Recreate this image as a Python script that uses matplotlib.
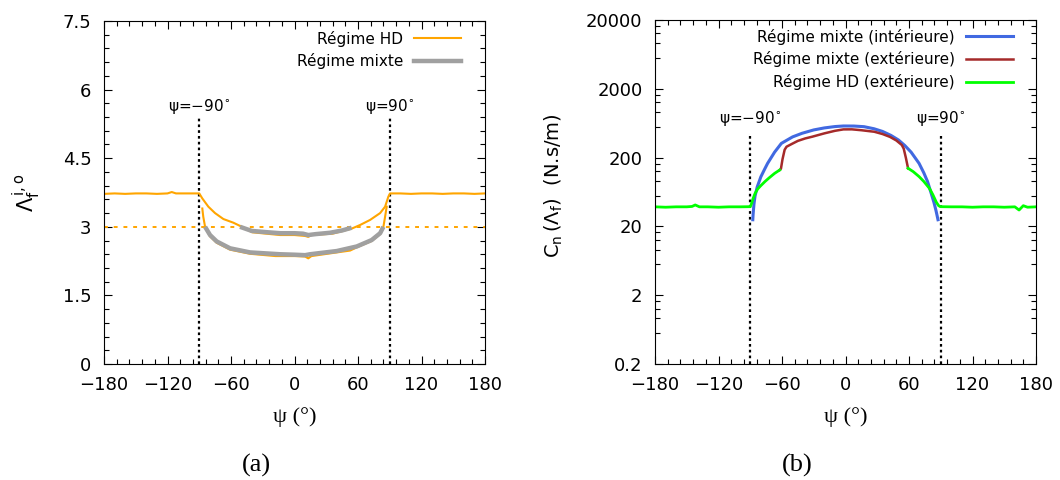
import matplotlib
matplotlib.use("Agg")
import matplotlib.pyplot as plt
import numpy as np
from matplotlib.ticker import FixedLocator, MultipleLocator, NullFormatter
from matplotlib.lines import Line2D

plt.rcParams['font.family'] = ['DejaVu Sans']
plt.rcParams['mathtext.fontset'] = 'dejavusans'

# ---- panel (a): Lambda_f vs psi ----
psi_hd_out = [-180, -170, -160, -150, -140, -130, -120, -116, -112, -100, -90,
              -87.1, -81.4, -75.1, -67.2, -57.8, -51.5, -40, -13.6, 0, 10, 13, 16, 36, 54,
              62, 71.4, 80.9, 85.6, 88.7, 90.3, 100, 110, 120, 130, 140, 150, 160, 170, 180]
lam_hd_out = [3.72, 3.73, 3.72, 3.73, 3.73, 3.72, 3.73, 3.76, 3.73, 3.73, 3.73,
              3.62, 3.44, 3.30, 3.17, 3.09, 3.02, 2.88, 2.82, 2.82, 2.80, 2.78, 2.82, 2.85, 2.96,
              3.04, 3.15, 3.30, 3.44, 3.66, 3.73, 3.73, 3.72, 3.73, 3.73, 3.72, 3.73, 3.73, 3.72, 3.73]

psi_hd_in = [-87.1, -86.2, -84.5, -79.8, -73.5, -60.9, -42, -18, 0, 10, 13, 16,
             40, 52.5, 58.8, 72.9, 80.9, 84, 85.6, 87.1]
lam_hd_in = [3.40, 3.22, 3.00, 2.79, 2.65, 2.50, 2.41, 2.36, 2.36, 2.35, 2.31, 2.36,
             2.44, 2.48, 2.55, 2.69, 2.84, 3.00, 3.22, 3.44]

psi_mix_up = [-51.5, -40.4, -25, -13.6, 0, 8, 13.1, 20, 33.6, 45, 54]
lam_mix_up = [3.00, 2.91, 2.88, 2.86, 2.86, 2.85, 2.82, 2.84, 2.87, 2.92, 2.98]

psi_mix_low = [-84.5, -79.8, -73.5, -60.9, -42, -13.6, 0, 10, 14.7, 39.9, 58.8, 72.9, 80.9, 84]
lam_mix_low = [3.00, 2.82, 2.68, 2.53, 2.44, 2.40, 2.39, 2.38, 2.40, 2.47, 2.57, 2.71, 2.86, 3.00]

lam_ref = 3.0
psi_limits = [-90, 90]

# ---- panel (b): C_n vs psi ----
psi_blue = [-87.6, -87.3, -86.5, -85.5, -83.4, -80, -76.5, -73.6, -67, -60.6, -50, -41.1,
            -30, -20, -10, -2, 8, 17.5, 27, 35, 43, 50, 56, 62, 69.5, 74, 77.5, 80.9,
            83.5, 85.5, 86.7, 87.4]
cn_blue = [25, 30, 42, 55, 75, 105, 135, 165, 240, 322, 400, 451,
           505, 540, 565, 576, 575, 563, 525, 480, 420, 361, 300, 240, 165, 120, 90, 61,
           45, 34, 28, 25]

psi_red = [-62.2, -61, -59.5, -57.5, -55.7, -50, -45, -38, -31.3, -20, -10, -2, 6, 15,
           27.2, 35, 42, 48, 53.2, 55, 57, 59.1]
cn_red = [132, 138, 190, 260, 288, 320, 350, 380, 403, 450, 490, 514, 515, 500,
          475, 440, 400, 355, 305, 270, 200, 140]

psi_green_l = [-180, -170, -160, -150, -145, -142, -138, -130, -120, -110, -100, -90,
               -89, -87.5, -85.5, -83, -80.1, -76, -72, -67, -62.2]
cn_green_l = [38.5, 38, 38.5, 38.5, 39, 41, 38.5, 38.5, 38, 38.5, 38.5, 38.7,
              42, 50, 60, 70, 78, 90, 102, 118, 132]
psi_green_r = [59.1, 64, 69.5, 74, 79.3, 82.5, 85.8, 88, 89.7, 100, 110, 120, 130, 140,
               150, 160, 164, 168, 172, 180]
cn_green_r = [140, 125, 106, 90, 71.5, 58, 45, 40, 38.7, 38.5, 38.5, 38, 38.5, 38.5,
              38, 38.5, 34.6, 40, 38, 38.5]

x_ticks = [-180, -120, -60, 0, 60, 120, 180]
y_ticks_a = [0, 1.5, 3, 4.5, 6, 7.5]
y_labels_a = ['0', '1.5', '3', '4.5', '6', '7.5']
y_ticks_b = [0.2, 2, 20, 200, 2000, 20000]
y_labels_b = ['0.2', '2', '20', '200', '2000', '20000']

ORANGE = '#ffa500'
GRAY = '#a0a0a0'
BLUE = '#4169e1'
RED = '#a52a2a'
GREEN = '#00ff00'

fig = plt.figure(figsize=(10.6, 4.8), dpi=100)
ax1 = fig.add_axes([104 / 1060, 116 / 480, 381 / 1060, 343 / 480])
ax2 = fig.add_axes([655 / 1060, 116 / 480, 381 / 1060, 344 / 480])


def style_axes(ax):
    ax.tick_params(which='both', direction='in', top=True, right=True, width=0.8)
    ax.tick_params(which='major', length=6, labelsize=13, pad=9)
    ax.tick_params(which='minor', length=3.5)
    ax.set_xlim(-180, 180)
    ax.set_xticks(x_ticks)
    ax.xaxis.set_minor_locator(MultipleLocator(12))
    ax.set_xlabel('ψ (°)', family=['Liberation Serif', 'DejaVu Serif'], fontsize=16)
    ax.xaxis.set_label_coords(0.5, -0.125)


# panel (a)
style_axes(ax1)
ax1.set_ylim(0, 7.5)
ax1.set_yticks(y_ticks_a)
ax1.set_yticklabels(y_labels_a)
ax1.yaxis.set_minor_locator(MultipleLocator(0.3))

ax1.axhline(lam_ref, color=ORANGE, lw=1.4, dashes=(2, 3))
for p in psi_limits:
    ax1.axvline(p, ymax=0.72, color='black', lw=1.6, dashes=(1.2, 1.4))
ax1.plot(psi_hd_out, lam_hd_out, color=ORANGE, lw=1.5)
ax1.plot(psi_hd_in, lam_hd_in, color=ORANGE, lw=1.5)
ax1.plot(psi_mix_up, lam_mix_up, color=GRAY, lw=3.2, solid_capstyle='butt')
ax1.plot(psi_mix_low, lam_mix_low, color=GRAY, lw=3.2, solid_capstyle='butt')

ax1.text(psi_limits[0], 0.738, 'ψ=−90$^{\\circ}$', transform=ax1.get_xaxis_transform(),
         ha='center', va='baseline', fontsize=11)
ax1.text(psi_limits[1], 0.738, 'ψ=90$^{\\circ}$', transform=ax1.get_xaxis_transform(),
         ha='center', va='baseline', fontsize=11)

h1 = [Line2D([], [], color=ORANGE, lw=1.5), Line2D([], [], color=GRAY, lw=3.2)]
ax1.legend(h1, ['Régime HD', 'Régime mixte'], loc='upper right', bbox_to_anchor=(0.937, 0.972),
           frameon=False, markerfirst=False, fontsize=11, handlelength=3.1,
           handletextpad=0.7, labelspacing=0.42, borderpad=0, borderaxespad=0)

ax1.set_ylabel('$\\mathregular{\\Lambda_f^{\\,i,o}}$', fontsize=15)
ax1.yaxis.set_label_coords(-0.16, 0.5)

# panel (b)
style_axes(ax2)
ax2.set_yscale('log')
ax2.set_ylim(0.2, 20000)
ax2.set_yticks(y_ticks_b)
ax2.set_yticklabels(y_labels_b)
minor_b = []
for lo in y_ticks_b[:-1]:
    hi = lo * 10
    minor_b += [lo + k * (hi - lo) / 5 for k in range(1, 5)]
ax2.yaxis.set_minor_locator(FixedLocator(minor_b))
ax2.yaxis.set_minor_formatter(NullFormatter())

for p in psi_limits:
    ax2.axvline(p, ymax=0.668, color='black', lw=1.6, dashes=(1.2, 1.4))
ax2.plot(psi_blue, cn_blue, color=BLUE, lw=2.2)
ax2.plot(psi_red, cn_red, color=RED, lw=1.8)
ax2.plot(psi_green_l, cn_green_l, color=GREEN, lw=2.0)
ax2.plot(psi_green_r, cn_green_r, color=GREEN, lw=2.0)

ax2.text(psi_limits[0], 0.70, 'ψ=−90$^{\\circ}$', transform=ax2.get_xaxis_transform(),
         ha='center', va='baseline', fontsize=11)
ax2.text(psi_limits[1], 0.70, 'ψ=90$^{\\circ}$', transform=ax2.get_xaxis_transform(),
         ha='center', va='baseline', fontsize=11)

h2 = [Line2D([], [], color=BLUE, lw=2.2), Line2D([], [], color=RED, lw=1.8),
      Line2D([], [], color=GREEN, lw=2.0)]
ax2.legend(h2, ['Régime mixte (intérieure)', 'Régime mixte (extérieure)', 'Régime HD (extérieure)'],
           loc='upper right', bbox_to_anchor=(0.94, 0.975), frameon=False, markerfirst=False,
           fontsize=11, handlelength=3.1, handletextpad=0.7, labelspacing=0.45,
           borderpad=0, borderaxespad=0)

ax2.set_ylabel('$\\mathregular{C_n\\,(\\Lambda_f)}$  (N.s/m)', fontsize=14)
ax2.yaxis.set_label_coords(-0.236, 0.52)

fig.text(256 / 1060, 1 - 465 / 480, '(a)', ha='center', va='center',
         family=['Liberation Serif', 'DejaVu Serif'], fontsize=19)
fig.text(797 / 1060, 1 - 465 / 480, '(b)', ha='center', va='center',
         family=['Liberation Serif', 'DejaVu Serif'], fontsize=19)

fig.savefig('out.png', dpi=100)
